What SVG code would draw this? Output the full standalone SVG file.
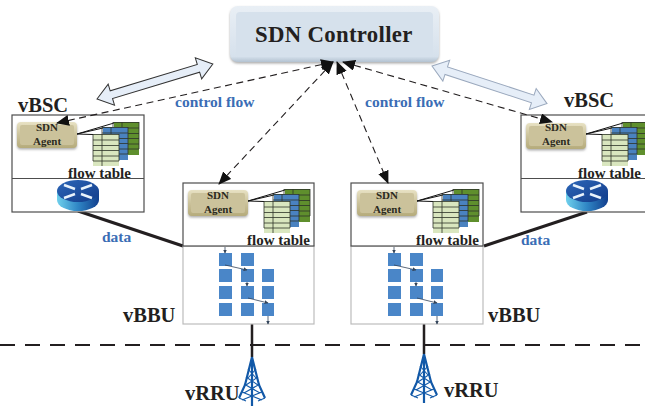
<svg xmlns="http://www.w3.org/2000/svg" width="645" height="411" viewBox="0 0 645 411">
<style>
text{font-family:"Liberation Serif","Times New Roman",serif;font-weight:bold;fill:#231f20}
.lbl{font-size:20.500px}
.ft{font-size:15px}
.ag{font-size:11px;text-anchor:middle;fill:#2b2a20}
.blue{font-size:15.500px;fill:#3a6db5}
.box{fill:#fff;stroke:#4d4d4d;stroke-width:1.2}
.gbox{fill:#fff;stroke:#bcbcbc;stroke-width:1.2}
.dash{fill:none;stroke:#231f20;stroke-width:1.1;stroke-dasharray:7 4.500;marker-start:url(#ah);marker-end:url(#ah)}
.sq{fill:#4a86c8}
.sm{fill:none;stroke:#33445a;stroke-width:.8;marker-end:url(#sh)}
.thick{fill:none;stroke:#231f20;stroke-width:3}
.grid{fill:none;stroke:#2d3328;stroke-width:.8}
.tw{fill:none;stroke:#1259a8;stroke-width:1.1}
.twb{fill:none;stroke:#1259a8;stroke-width:2.200}
</style>
<defs>
<marker id="ah" markerUnits="userSpaceOnUse" markerWidth="13" markerHeight="11" refX="12" refY="5.500" orient="auto-start-reverse"><path d="M0 0L13 5.500L0 11Z" fill="#111"/></marker>
<marker id="sh" markerUnits="userSpaceOnUse" markerWidth="4" markerHeight="4" refX="3.500" refY="2" orient="auto"><path d="M0 0L4 2L0 4Z" fill="#33445a"/></marker>
<linearGradient id="gold" x1="0" y1="0" x2="0" y2="1"><stop offset="0" stop-color="#e8e2c4"/><stop offset=".5" stop-color="#cbc29b"/><stop offset="1" stop-color="#b5ab7b"/></linearGradient>
<linearGradient id="ctl" x1="0" y1="0" x2="0" y2="1"><stop offset="0" stop-color="#e9eff5"/><stop offset=".9" stop-color="#d6e1ec"/><stop offset="1" stop-color="#b3c2d1"/></linearGradient>
<linearGradient id="rt" x1="0" y1="0" x2="1" y2="0"><stop offset="0" stop-color="#6fd0ec"/><stop offset=".5" stop-color="#2f86c5"/><stop offset="1" stop-color="#123f8e"/></linearGradient>
<linearGradient id="rtop" x1="0" y1="0" x2="1" y2="1"><stop offset="0" stop-color="#2c66b8"/><stop offset="1" stop-color="#123c8a"/></linearGradient>
<filter id="sd" x="-10%" y="-10%" width="120%" height="130%"><feDropShadow dx="0" dy="1.500" stdDeviation="1.200" flood-color="#777" flood-opacity=".6"/></filter>
<g id="grid"><path class="grid" d="M0 0.500H26M0 6H26M0 11.500H26M0 16.500H26M0 22H26M0 27H26M0 0V27M9 0V32M26 0V27"/></g>
<g id="agentbody">
<rect width="60" height="26" rx="4" fill="url(#gold)" filter="url(#sd)"/>
<rect x="3" y="3" width="54" height="20" rx="2" fill="#cbc29b"/>
</g>
<g id="tables">
<path d="M60 12L97 1M60 12L86 6M60 12L76 12.500" stroke="#111" stroke-width="1" fill="none"/>
<rect x="97" y="0" width="25" height="33" fill="#5f8f2d"/><use href="#grid" x="96" y="0"/>
<rect x="86" y="5" width="25" height="33" fill="#4a82c0"/><use href="#grid" x="85" y="5"/>
<rect x="76" y="12" width="26" height="32" fill="#d9e6bf"/><use href="#grid" x="76" y="12"/>
</g>
<g id="router">
<path d="M-21 -4V5A21 11 0 0 0 21 5V-4Z" fill="url(#rt)"/>
<ellipse cx="0" cy="-4" rx="21" ry="11" fill="url(#rtop)"/>
<path d="M-14 -10L-3 -6M14 -10L3 -6M-14 3L-3 -1M14 3L3 -1" stroke="#e8f2fb" stroke-width="2.400" fill="none"/>
</g>
<g id="bbuin">
<rect class="sq" x="0" y="0" width="13" height="13"/><rect class="sq" x="22" y="0" width="13" height="13"/>
<rect class="sq" x="0" y="16" width="13" height="13"/><rect class="sq" x="22" y="16" width="13" height="13"/><rect class="sq" x="43" y="16" width="12" height="13"/>
<rect class="sq" x="0" y="33" width="13" height="13"/><rect class="sq" x="22" y="33" width="13" height="13"/><rect class="sq" x="43" y="33" width="12" height="13"/>
<rect class="sq" x="0" y="50" width="13" height="13"/><rect class="sq" x="22" y="50" width="13" height="13"/><rect class="sq" x="43" y="50" width="12" height="13"/>
<path class="sm" d="M6 -6V0"/><path class="sm" d="M6 12L28 17"/><path class="sm" d="M28 29V33"/><path class="sm" d="M29 45L49 50"/><path class="sm" d="M49 63V71"/>
</g>
<g id="tower">
<path d="M0 0L-7 28L-13 41M0 0L7 28L13 41M0 0V49" class="twb"/>
<path d="M-13 41L-6 44M13 41L6 44M-10 35L10 43M10 35L-10 43M-8 27L8 36M8 27L-8 36M-6 20L6 28M6 20L-6 28M-4 12L4 21M4 12L-4 21" class="tw"/>
</g>
<polygon id="fat" points="0,0 15,-11 15,-4 106,-4 106,-11 121,0 106,11 106,4 15,4 15,11"/>
</defs>

<g id="connectors">
<path class="thick" d="M78 211L186 247"/>
<path class="thick" d="M484 246L587 212"/>
<path d="M252 324V357M424 324V354" fill="none" stroke="#231f20" stroke-width="2.500"/>
<path d="M0 345H645" fill="none" stroke="#231f20" stroke-width="1.800" stroke-dasharray="15 10"/>
</g>

<g id="vBSC-left">
<rect class="box" x="12" y="115" width="132" height="97"/>
<path d="M12 178.500H144" stroke="#4d4d4d" stroke-width="1.200"/>
<use href="#agentbody" x="17" y="122"/>
<text class="ag" x="47" y="131">SDN</text><text class="ag" x="47" y="145">Agent</text>
<use href="#tables" x="17" y="122"/>
<text class="ft" x="68" y="178">flow table</text>
<use href="#router" x="78" y="195"/>
<text class="lbl" x="18" y="112">vBSC</text>
</g>

<g id="vBSC-right">
<rect class="box" x="521" y="115" width="130" height="97"/>
<path d="M521 178.500H645" stroke="#4d4d4d" stroke-width="1.200"/>
<use href="#agentbody" x="526" y="123"/>
<text class="ag" x="556" y="131">SDN</text><text class="ag" x="556" y="145">Agent</text>
<use href="#tables" x="526" y="122"/>
<text class="ft" x="578" y="178">flow table</text>
<use href="#router" x="587" y="195"/>
<text class="lbl" x="564" y="107">vBSC</text>
</g>

<g id="vBBU-left">
<rect class="gbox" x="183" y="246" width="131" height="78"/>
<rect class="box" x="183" y="183" width="131" height="63"/>
<use href="#agentbody" x="188" y="190"/>
<text class="ag" x="218" y="199">SDN</text><text class="ag" x="218" y="213">Agent</text>
<use href="#tables" x="188" y="189"/>
<text class="ft" x="247" y="245">flow table</text>
<use href="#bbuin" x="219" y="253"/>
<text class="lbl" x="123" y="322">vBBU</text>
</g>

<g id="vBBU-right">
<rect class="gbox" x="351" y="246" width="132" height="78"/>
<rect class="box" x="351" y="183" width="132" height="63"/>
<use href="#agentbody" x="357" y="190"/>
<text class="ag" x="387" y="199">SDN</text><text class="ag" x="387" y="213">Agent</text>
<use href="#tables" x="357" y="189"/>
<text class="ft" x="416" y="245">flow table</text>
<use href="#bbuin" x="388" y="253"/>
<text class="lbl" x="488" y="322">vBBU</text>
</g>

<g id="vRRU-left"><use href="#tower" x="252" y="357"/><text class="lbl" x="185" y="400">vRRU</text></g>
<g id="vRRU-right"><use href="#tower" x="424" y="354"/><text class="lbl" x="444" y="397">vRRU</text></g>

<g id="controller">
<rect x="230" y="6" width="209" height="56" rx="8" fill="url(#ctl)" filter="url(#sd)"/>
<rect x="236" y="12" width="197" height="45" rx="4" fill="#d6e1ec"/>
<text x="255" y="42" style="font-size:22.800px;letter-spacing:.3px">SDN Controller</text>
</g>

<g id="dashed-connectors">
<path class="dash" d="M333 62L57 123"/>
<path class="dash" d="M333 62L219 184"/>
<path class="dash" d="M337 62L388 183"/>
<path class="dash" d="M343 62L552 122"/>
<use href="#fat" transform="translate(97 99) rotate(-16.800)" fill="#e6eef8" stroke="#333" stroke-width="1"/>
<use href="#fat" transform="translate(432 66) rotate(18.100)" fill="#e6eef8" stroke="#9aa8bd" stroke-width="1"/>
</g>

<g id="labels">
<text class="blue" x="175" y="107">control flow</text>
<text class="blue" x="365" y="107">control flow</text>
<text class="blue" x="102" y="242">data</text>
<text class="blue" x="521" y="245">data</text>
</g>
</svg>
